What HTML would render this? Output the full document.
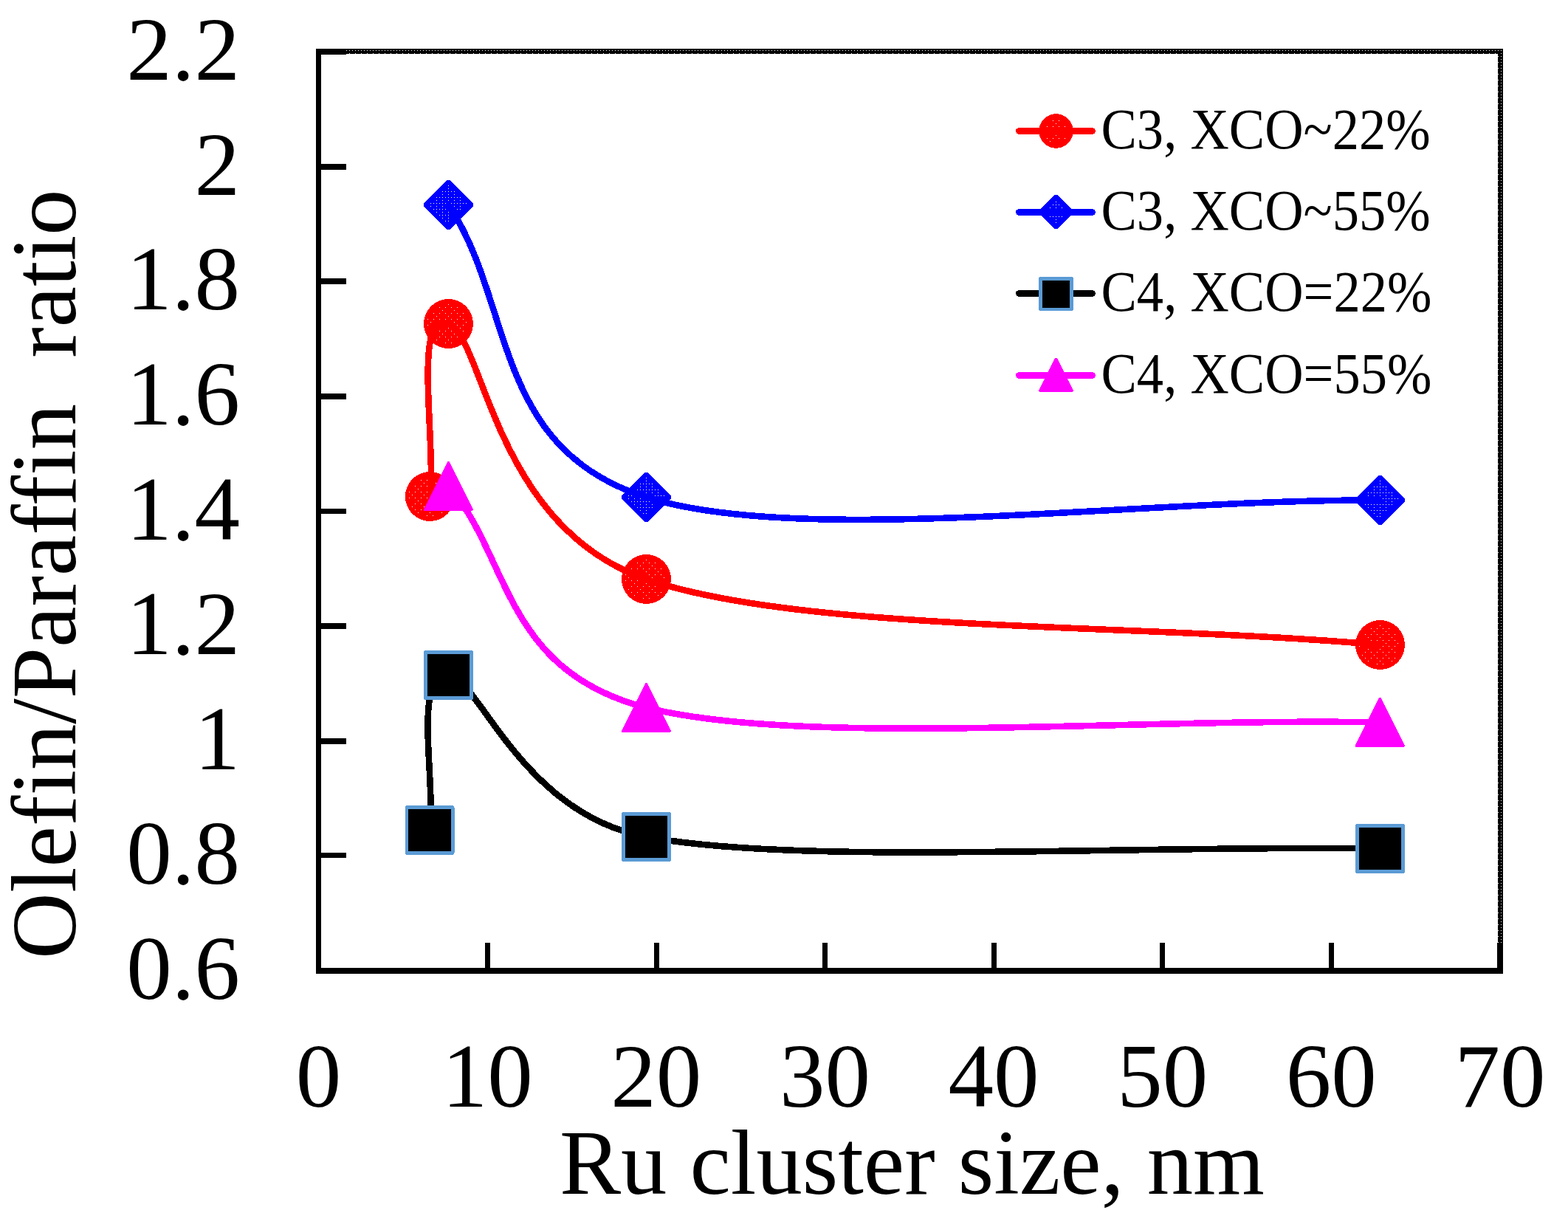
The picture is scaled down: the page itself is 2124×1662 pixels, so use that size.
<!DOCTYPE html>
<html lang="en"><head><meta charset="utf-8"><title>Olefin/Paraffin ratio vs Ru cluster size</title>
<style>
html,body{margin:0;padding:0;background:#fff;}
body{width:2124px;height:1662px;overflow:hidden;}
svg{display:block;}
text{font-family:"Liberation Serif","DejaVu Serif",serif;fill:#000;}
.tk{font-size:123px;}
.lg{font-size:78px;}
.tt{font-size:124.6px;}
.yt{white-space:pre;}
</style></head><body>
<svg width="2124" height="1662" viewBox="0 0 2124 1662">
<defs>
<pattern id="dc" patternUnits="userSpaceOnUse" x="-2" y="-2" width="16" height="16">
<path d="M10,0h1v1h-1z M6,4h1v1h-1z M14,4h1v1h-1z M2,8h1v1h-1z M6,12h1v1h-1z M14,12h1v1h-1z" fill="#fff"/>
</pattern>
<pattern id="dd" patternUnits="userSpaceOnUse" x="0" y="-2" width="8" height="8">
<path d="M0,0h1v1h-1z M4,0h1v1h-1z M0,4h1v1h-1z" fill="#fff"/>
</pattern>
</defs>
<rect width="2124" height="1662" fill="#fff"/>
<g fill="#000" shape-rendering="crispEdges">
<rect x="428" y="66" width="1608" height="7"/>
<rect x="2029" y="66" width="7" height="1253"/>
<rect x="428" y="66" width="7" height="1253"/>
<rect x="428" y="1311" width="1608" height="8"/>
<rect x="428" y="1311" width="41" height="8"/>
<rect x="428" y="1155" width="41" height="7"/>
<rect x="428" y="1000" width="41" height="8"/>
<rect x="428" y="844" width="41" height="8"/>
<rect x="428" y="689" width="41" height="7"/>
<rect x="428" y="533" width="41" height="8"/>
<rect x="428" y="377" width="41" height="8"/>
<rect x="428" y="222" width="41" height="8"/>
<rect x="428" y="66" width="41" height="8"/>
<rect x="428" y="1277" width="7" height="38"/>
<rect x="657" y="1277" width="7" height="38"/>
<rect x="886" y="1277" width="7" height="38"/>
<rect x="1114" y="1277" width="7" height="38"/>
<rect x="1343" y="1277" width="7" height="38"/>
<rect x="1571" y="1277" width="7" height="38"/>
<rect x="1800" y="1277" width="7" height="38"/>
<rect x="2028" y="1277" width="8" height="38"/>
</g>
<g stroke="#fff" stroke-width="1" fill="none" shape-rendering="crispEdges">
<line x1="469" y1="68.5" x2="2034" y2="68.5" stroke-dasharray="1 3"/>
<line x1="473" y1="72.5" x2="2029" y2="72.5" stroke-dasharray="1 7"/>
<line x1="2033.5" y1="72" x2="2033.5" y2="1277" stroke-dasharray="1 3"/>
<line x1="2029.5" y1="76" x2="2029.5" y2="1277" stroke-dasharray="1 7"/>
</g>
<g shape-rendering="crispEdges">
<circle cx="582.4" cy="672.5" r="33.5" fill="#ff0000"/>
<circle cx="607.5" cy="438.5" r="33.5" fill="#ff0000"/>
<circle cx="875.5" cy="784.5" r="33.5" fill="#ff0000"/>
<circle cx="1869.5" cy="873.5" r="33.5" fill="#ff0000"/>
<g transform="translate(582,672)"><circle cx="0" cy="0" r="28.14" fill="url(#dc)"/></g>
<g transform="translate(607,438)"><circle cx="0" cy="0" r="28.14" fill="url(#dc)"/></g>
<g transform="translate(875,784)"><circle cx="0" cy="0" r="28.14" fill="url(#dc)"/></g>
<g transform="translate(1869,873)"><circle cx="0" cy="0" r="28.14" fill="url(#dc)"/></g>
<path d="M582.4,672.5 C590.77,594.5 558.65,419.83 607.5,438.5 C655.55,456.86 668.62,713.19 875.5,784.5 C1085.83,857 1538.17,843.83 1869.5,873.5" fill="none" stroke="#ff0000" stroke-width="8.6" stroke-linecap="round" stroke-linejoin="round"/>
<polygon points="605.9,244 609.1,244 641,275.9 641,279.1 609.1,311 605.9,311 574,279.1 574,275.9" fill="#0000ff"/>
<polygon points="873.9,640 877.1,640 909,671.9 909,675.1 877.1,707 873.9,707 842,675.1 842,671.9" fill="#0000ff"/>
<polygon points="1867.9,644 1871.1,644 1903,675.9 1903,679.1 1871.1,711 1867.9,711 1836,679.1 1836,675.9" fill="#0000ff"/>
<g transform="translate(607,277)"><polygon points="0,-26.8 26.8,0 0,26.8 -26.8,0" fill="url(#dd)"/></g>
<g transform="translate(875,673)"><polygon points="0,-26.8 26.8,0 0,26.8 -26.8,0" fill="url(#dd)"/></g>
<g transform="translate(1869,677)"><polygon points="0,-26.8 26.8,0 0,26.8 -26.8,0" fill="url(#dd)"/></g>
<path d="M607.5,277.5 C696.83,409.5 665.17,606.83 875.5,673.5 C1085.83,740.17 1538.17,676.17 1869.5,677.5" fill="none" stroke="#0000ff" stroke-width="8.6" stroke-linecap="round" stroke-linejoin="round"/>
<path d="M582,1124.5 C590.5,1054.5 558.58,913 607.5,914.5 C647.07,915.71 705.37,1101.82 875.5,1133.5 C1085.83,1172.67 1538.17,1144.17 1869.5,1149.5" fill="none" stroke="#000000" stroke-width="8.6" stroke-linecap="round" stroke-linejoin="round"/>
<rect x="550.9" y="1093.4" width="62.2" height="62.2" rx="0.6" fill="#000" stroke="#5b9bd5" stroke-width="4.8" stroke-linejoin="round"/>
<rect x="576.4" y="883.4" width="62.2" height="62.2" rx="0.6" fill="#000" stroke="#5b9bd5" stroke-width="4.8" stroke-linejoin="round"/>
<rect x="844.4" y="1102.4" width="62.2" height="62.2" rx="0.6" fill="#000" stroke="#5b9bd5" stroke-width="4.8" stroke-linejoin="round"/>
<rect x="1838.4" y="1118.4" width="62.2" height="62.2" rx="0.6" fill="#000" stroke="#5b9bd5" stroke-width="4.8" stroke-linejoin="round"/>
<path d="M607.5,658.5 C690.32,751.21 680.54,909.06 875.5,958.5 C1085.8,1011.83 1538.03,971.83 1869.3,978.5" fill="none" stroke="#ff00ff" stroke-width="8.6" stroke-linecap="round" stroke-linejoin="round"/>
<path d="M607.5,627 L639,690 L576,690 Z" fill="#ff00ff" stroke="#ff00ff" stroke-width="4" stroke-linejoin="round"/>
<path d="M875.5,927 L907,990 L844,990 Z" fill="#ff00ff" stroke="#ff00ff" stroke-width="4" stroke-linejoin="round"/>
<path d="M1869.3,947 L1900.8,1010 L1837.8,1010 Z" fill="#ff00ff" stroke="#ff00ff" stroke-width="4" stroke-linejoin="round"/>
<circle cx="1430.5" cy="177.5" r="23.3" fill="#ff0000"/>
<g transform="translate(1430,177)"><circle cx="0" cy="0" r="16.64" fill="url(#dc)"/></g>
<line x1="1380.5" y1="177.5" x2="1479.5" y2="177.5" stroke="#ff0000" stroke-width="9" stroke-linecap="round"/>
<text class="lg" transform="translate(1491.5,200.5) scale(0.93,1)">C3, XCO~22%</text>
<polygon points="1428.9,263.7 1432.1,263.7 1453.8,285.4 1453.8,288.6 1432.1,310.3 1428.9,310.3 1407.2,288.6 1407.2,285.4" fill="#0000ff"/>
<g transform="translate(1430,287)"><polygon points="0,-15.84 15.84,0 0,15.84 -15.84,0" fill="url(#dd)"/></g>
<line x1="1380.5" y1="287.5" x2="1479.5" y2="287.5" stroke="#0000ff" stroke-width="9" stroke-linecap="round"/>
<text class="lg" transform="translate(1491.5,310.5) scale(0.93,1)">C3, XCO~55%</text>
<line x1="1380.5" y1="397.5" x2="1479.5" y2="397.5" stroke="#000000" stroke-width="9" stroke-linecap="round"/>
<rect x="1409.6" y="377.1" width="41.8" height="41.8" rx="0.6" fill="#000" stroke="#5b9bd5" stroke-width="4.8" stroke-linejoin="round"/>
<text class="lg" transform="translate(1491.5,420.5) scale(0.93,1)">C4, XCO=22%</text>
<line x1="1380.5" y1="508.5" x2="1479.5" y2="508.5" stroke="#ff00ff" stroke-width="9" stroke-linecap="round"/>
<path d="M1430.5,486.7 L1451.8,529.3 L1409.2,529.3 Z" fill="#ff00ff" stroke="#ff00ff" stroke-width="4" stroke-linejoin="round"/>
<text class="lg" transform="translate(1491.5,531.5) scale(0.93,1)">C4, XCO=55%</text>
</g>
<text class="tk" x="325" y="1353" text-anchor="end">0.6</text>
<text class="tk" x="325" y="1197.38" text-anchor="end">0.8</text>
<text class="tk" x="325" y="1041.75" text-anchor="end">1</text>
<text class="tk" x="325" y="886.12" text-anchor="end">1.2</text>
<text class="tk" x="325" y="730.5" text-anchor="end">1.4</text>
<text class="tk" x="325" y="574.88" text-anchor="end">1.6</text>
<text class="tk" x="325" y="419.25" text-anchor="end">1.8</text>
<text class="tk" x="325" y="263.62" text-anchor="end">2</text>
<text class="tk" x="325" y="108" text-anchor="end">2.2</text>
<text class="tk" x="431.5" y="1499" text-anchor="middle">0</text>
<text class="tk" x="660.14" y="1499" text-anchor="middle">10</text>
<text class="tk" x="888.79" y="1499" text-anchor="middle">20</text>
<text class="tk" x="1117.43" y="1499" text-anchor="middle">30</text>
<text class="tk" x="1346.07" y="1499" text-anchor="middle">40</text>
<text class="tk" x="1574.71" y="1499" text-anchor="middle">50</text>
<text class="tk" x="1803.36" y="1499" text-anchor="middle">60</text>
<text class="tk" x="2032" y="1499" text-anchor="middle">70</text>
<text class="tt" x="758" y="1617">Ru cluster size, nm</text>
<text class="tt yt" transform="translate(102,1299) rotate(-90)" xml:space="preserve">Olefin/Paraffin  ratio</text>
</svg></body></html>
